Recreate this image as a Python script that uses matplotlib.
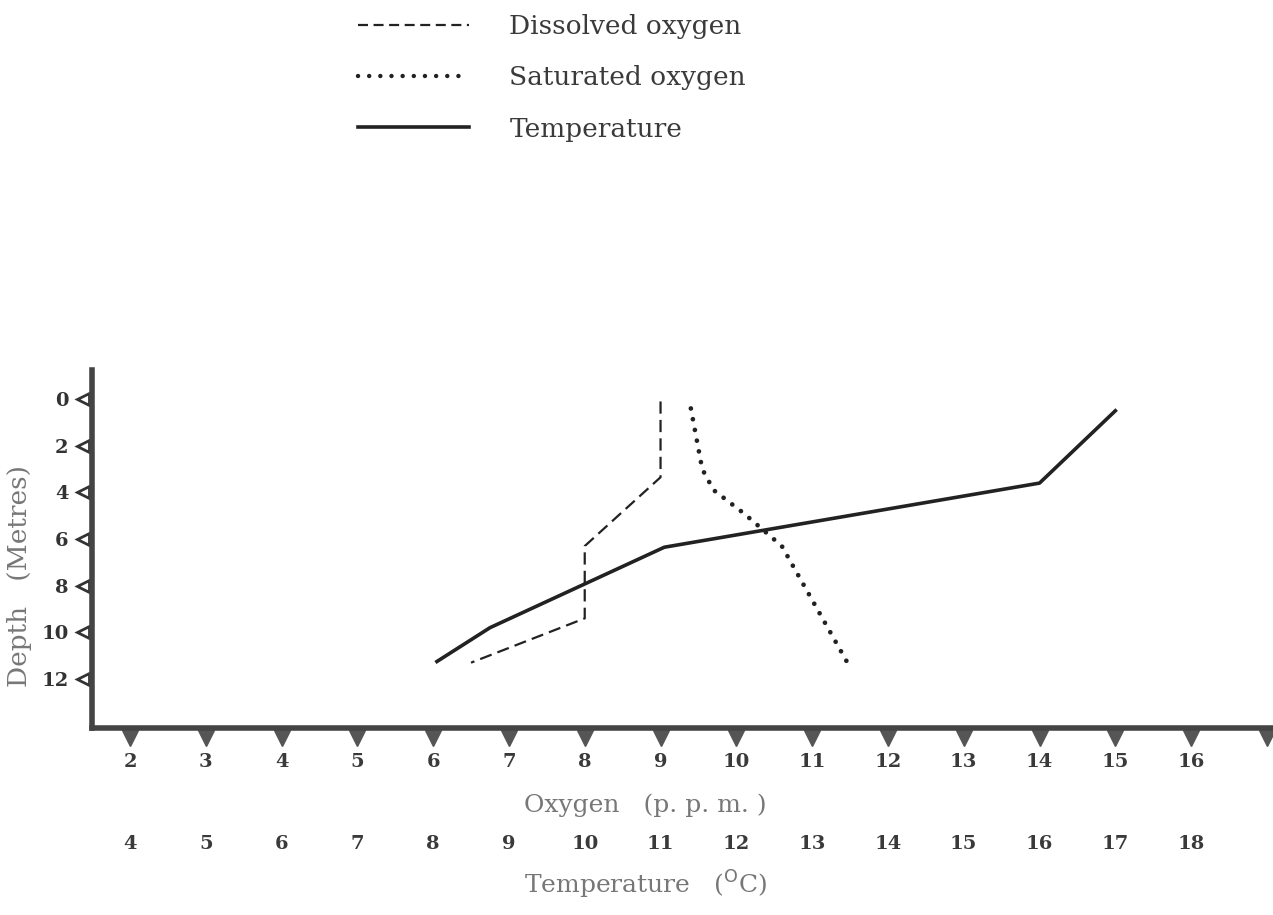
import matplotlib
matplotlib.use("Agg")
import matplotlib.pyplot as plt
from matplotlib.lines import Line2D

# ---- data ----
do_oxygen = [9.0, 9.0, 8.0, 8.0, 6.5]
do_depth = [0.1, 3.35, 6.3, 9.4, 11.3]

sat_oxygen = [9.4, 9.55, 9.7, 10.1, 10.6, 11.5]
sat_depth = [0.4, 3.0, 3.9, 4.9, 6.3, 11.5]

temp_c = [17.0, 16.0, 11.05, 8.75, 8.05]
temp_depth = [0.5, 3.6, 6.35, 9.8, 11.25]

depth_ticks = [0, 2, 4, 6, 8, 10, 12]
oxygen_ticks = list(range(2, 17))
temp_ticks = list(range(4, 19))
TEMP_OFFSET = 2  # temperature scale = oxygen scale + 2

SERIF = ["DejaVu Serif"]
INK = "#222222"
GREY = "#777777"

fig = plt.figure(figsize=(12.73, 9.15), dpi=100)
ax = fig.add_axes([0.0723, 0.2044, 1 - 0.0723, 0.391])

ax.plot(do_oxygen, do_depth, color=INK, lw=1.6, ls=(0, (5.5, 2.8)))
ax.plot(sat_oxygen, sat_depth, color=INK, lw=3.4, ls=(0, (0.01, 2.3)),
        dash_capstyle="round")
ax.plot([t - TEMP_OFFSET for t in temp_c], temp_depth, color=INK, lw=2.6)

ax.set_xlim(1.5, 17.08)
ax.set_ylim(14.1, -1.24)

for s in ["top", "right"]:
    ax.spines[s].set_visible(False)
for s in ["left", "bottom"]:
    ax.spines[s].set_linewidth(4)
    ax.spines[s].set_color("#444444")

ax.set_yticks(depth_ticks)
ax.set_yticklabels([str(d) for d in depth_ticks], family=SERIF,
                   fontweight="bold", fontsize=14, color="#333333")
ax.set_xticks(oxygen_ticks)
ax.set_xticklabels([str(o) for o in oxygen_ticks], family=SERIF,
                   fontweight="bold", fontsize=14, color="#3a3a3a")
ax.tick_params(axis="y", length=0, pad=17)
ax.tick_params(axis="x", length=0, pad=18)

# tick markers drawn as triangles, as in the original
ax.plot([-0.008] * len(depth_ticks), depth_ticks, ls="none", marker="<",
        ms=9, mfc="white", mec="#333333", mew=2,
        transform=ax.get_yaxis_transform(), clip_on=False)
ax.plot(oxygen_ticks + [17], [-0.028] * (len(oxygen_ticks) + 1), ls="none",
        marker="v", ms=11, color="#555555",
        transform=ax.get_xaxis_transform(), clip_on=False)

# temperature scale
sec = ax.secondary_xaxis(-0.29, functions=(lambda o: o + TEMP_OFFSET,
                                           lambda t: t - TEMP_OFFSET))
sec.set_xticks(temp_ticks)
sec.set_xticklabels([str(t) for t in temp_ticks], family=SERIF,
                    fontweight="bold", fontsize=14, color="#3a3a3a")
sec.tick_params(length=0, pad=2)
sec.spines["bottom"].set_visible(False)

fig.text(645 / 1273, 1 - 805 / 915, "Oxygen   (p. p. m. )", family=SERIF,
         fontsize=18, color=GREY, ha="center", va="center")
fig.text(645 / 1273, 1 - 885 / 915, r"Temperature   ($^{\mathrm{O}}$C)",
         family=SERIF, fontsize=18, color=GREY, ha="center", va="center")
fig.text(20 / 1273, 1 - 576 / 915, "Depth   (Metres)", family=SERIF,
         fontsize=19, color=GREY, ha="center", va="center", rotation=90)

handles = [
    Line2D([], [], color=INK, lw=1.6, ls=(0, (4.5, 2.5))),
    Line2D([], [], color=INK, lw=3.2, ls=(0, (0.01, 2.5)), dash_capstyle="round"),
    Line2D([], [], color=INK, lw=2.6),
]
labels = ["Dissolved oxygen", "Saturated oxygen", "Temperature"]
fig.legend(handles, labels, loc="upper left",
           bbox_to_anchor=(334 / 1273, 1 + 10 / 915), frameon=False,
           handlelength=4.2, handletextpad=1.55, labelspacing=1.0,
           prop={"family": SERIF, "size": 19}, labelcolor="#3a3a3a")

fig.savefig("out.png", dpi=100, facecolor="white")
